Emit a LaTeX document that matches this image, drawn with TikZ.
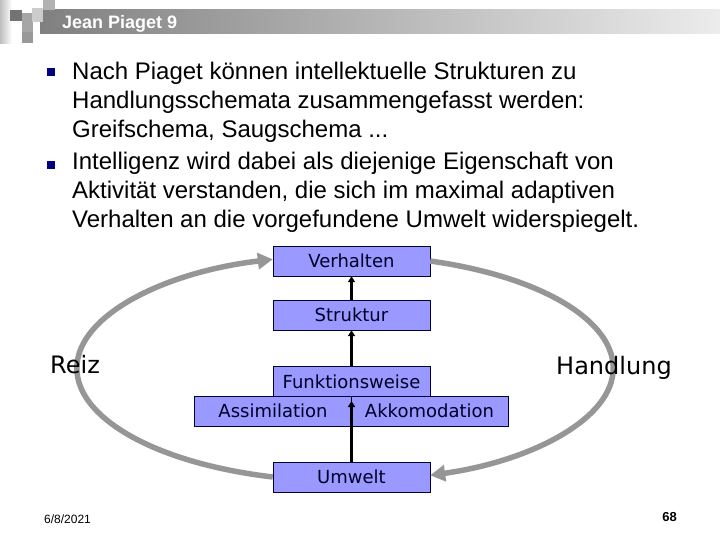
\documentclass[tikz,border=0pt]{standalone}
\usepackage{fontspec}
\setmainfont{Liberation Sans}
\newfontfamily\boxfont{DejaVu Sans}
\usetikzlibrary{arrows.meta}

\definecolor{boxblau}{RGB}{153,153,255}
\definecolor{kreisgrau}{RGB}{150,150,150}
\definecolor{punktblau}{RGB}{0,0,128}
\definecolor{bardunkel}{RGB}{128,128,128}
\definecolor{barhell}{RGB}{236,236,236}

\begin{document}
\begin{tikzpicture}[x=1pt,y=-1pt,
    kasten/.style={draw=black!80!blue, fill=boxblau, minimum width=157pt,
      minimum height=30pt, inner sep=0pt, text=black!85!blue,
      font=\boxfont\fontsize{18}{20}\selectfont},
    pfeil/.style={line width=3pt, -{Triangle[length=6pt,width=7pt]}},
    kreis/.style={draw=kreisgrau, line width=5.5pt, -{Triangle[length=15pt,width=16pt]}},
    punkt/.style={fill=punktblau, minimum size=8pt, inner sep=0pt},
    absatz/.style={anchor=north west, align=left, inner sep=0pt,
      font=\fontsize{24}{29}\selectfont},
    seite/.style={font=\boxfont\fontsize{24}{28}\selectfont, anchor=base west, inner sep=0pt}]

  % Rahmen
  \useasboundingbox (0,0) rectangle (720,540);

  % Titelbalken
  \shade[left color=bardunkel, right color=barhell] (40,10) rectangle (720,34);
  \shade[left color=black!25, right color=white] (0,0) rectangle (12,44);
  \fill[black!55] (10,10) rectangle (22,21);
  \fill[black!35] (22,13) rectangle (33,32);
  \fill[black!20] (32,8) rectangle (43,22);
  \fill[black!30] (43,0) rectangle (55,10);
  \fill[black!40] (22,32) rectangle (33,43);
  \node[font=\bfseries\fontsize{18}{20}\selectfont, text=white, anchor=base west,
    inner sep=0pt] (titel) at (62,29) {Jean Piaget 9};

  % Aufzaehlung
  \node[punkt] (p1) at (51,72) {};
  \node[punkt] (p2) at (51,165) {};
  \node[absatz] (text1) at (72,62) {Nach Piaget können intellektuelle Strukturen zu\\
    Handlungsschemata zusammengefasst werden:\\
    Greifschema, Saugschema ...};
  \node[absatz] (text2) at (72,152) {Intelligenz wird dabei als diejenige Eigenschaft von\\
    Aktivität verstanden, die sich im maximal adaptiven\\
    Verhalten an die vorgefundene Umwelt widerspiegelt.};

  % Kaesten
  \node[kasten] (verhalten) at (351.5,261) {Verhalten};
  \node[kasten] (struktur) at (351.5,315) {Struktur};
  \node[kasten] (funktion) at (351.5,381.5) {Funktionsweise};
  \node[kasten] (assim) at (273,411) {Assimilation};
  \node[kasten] (akkom) at (429.5,411) {Akkomodation};
  \node[kasten] (umwelt) at (351.5,477) {Umwelt};
  \coordinate (mitte) at (351.5,401);

  % Kreislauf
  \draw[kreis] (verhalten.east) arc[start angle=-71.5, end angle=71.5,
    x radius=268, y radius=113];
  \draw[kreis] (umwelt.west) arc[start angle=105.6, end angle=254.4,
    x radius=268, y radius=113];
  \node[seite] (reiz) at (50,373) {Reiz};
  \node[seite] (handlung) at (556,374) {Handlung};

  % Pfeile
  \draw[pfeil] (struktur.north) -- (verhalten.south);
  \draw[pfeil] (funktion.north) -- (struktur.south);
  \draw[pfeil] (umwelt.north) -- (mitte);

  % Fusszeile
  \node[font=\fontsize{12}{14}\selectfont, anchor=base west, inner sep=0pt]
    (datum) at (44,523) {6/8/2021};
  \node[font=\bfseries\fontsize{13}{14}\selectfont, anchor=base east, inner sep=0pt]
    (nummer) at (677,521) {68};

\end{tikzpicture}
\end{document}
